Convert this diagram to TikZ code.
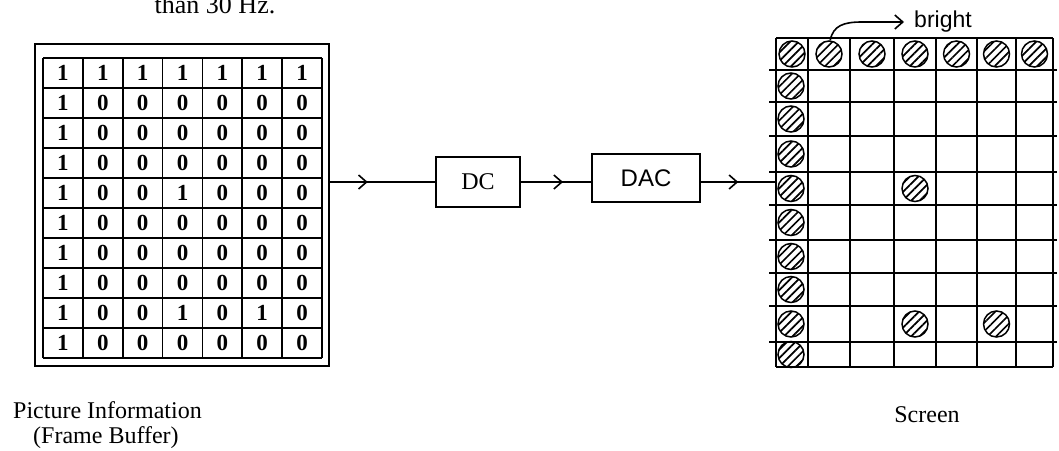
\documentclass[tikz,border=0pt]{standalone}
\usepackage{fontspec}
\setmainfont{Liberation Serif}
\newfontfamily\sansf{Liberation Sans}
\usetikzlibrary{arrows.meta,patterns.meta,decorations.markings,calc}
\begin{document}
\begin{tikzpicture}[x=1pt,y=-1pt,
  gridline/.style={line width=1.6pt},
  digit/.style={font=\fontsize{23}{23}\selectfont\bfseries, inner sep=0pt},
  lbl/.style={font=\fontsize{24}{24}\selectfont, inner sep=0pt},
  blockbox/.style={draw, line width=1.6pt, minimum width=84pt, minimum height=50pt, inner sep=0pt, font=\fontsize{24}{24}\selectfont},
  hc/.style={circle, draw, line width=1.5pt, minimum size=26pt, inner sep=0pt,
     pattern={Lines[angle=45,distance=6pt,line width=1.7pt]}},
  tipstyle/.style={line width=1.6pt},
  midarrow/.style={postaction={decorate}, decoration={markings,
     mark=at position #1 with {\arrow{Straight Barb[length=8pt,width=14pt]}}}},
]
\useasboundingbox (0,0) rectangle (1059,450);

% top cut-off text
\node[font=\fontsize{26}{26}\selectfont, anchor=base, inner sep=0pt] (hz) at (215,13) {than 30 Hz.};

% frame buffer
\node[draw, line width=1.6pt, minimum width=294pt, minimum height=322pt, inner sep=0pt] (fb) at (182,205) {};
\foreach \i in {0,...,10} \draw[gridline] (43,58+30*\i) -- (322,58+30*\i);
\foreach \j in {0,...,7} \draw[gridline] (43+39.857*\j,58) -- (43+39.857*\j,358);
\foreach \r/\vals in {1/{1,1,1,1,1,1,1},2/{1,0,0,0,0,0,0},3/{1,0,0,0,0,0,0},4/{1,0,0,0,0,0,0},
  5/{1,0,0,1,0,0,0},6/{1,0,0,0,0,0,0},7/{1,0,0,0,0,0,0},8/{1,0,0,0,0,0,0},
  9/{1,0,0,1,0,1,0},10/{1,0,0,0,0,0,0}}{
  \foreach \v [count=\c] in \vals {
    \node[digit] (d\r-\c) at (43+39.857*\c-19.93, 58+30*\r-15) {\v};
  }
}

% blocks
\node[blockbox] (dc) at (478,182) {DC};
\node[blockbox, minimum width=108pt, minimum height=48pt, font=\sansf\fontsize{24}{24}\selectfont] (dac) at (646,178) {DAC};

% screen
\node[minimum width=277pt, minimum height=329pt, inner sep=0pt] (screen) at (914.5,202.5) {};
\draw[gridline] (776,38) -- (1053,38);
\foreach \y in {70,102,136,172,205,240,273,306,342} \draw[gridline] (769,\y) -- (1057,\y);
\draw[gridline] (776,367) -- (1053,367);
\foreach \x in {776,808,850,894,936,977,1016,1053} \draw[gridline] (\x,38) -- (\x,367);

% hatched dots
\foreach \x [count=\c] in {792,829,872,915,956.5,996.5,1034.5}
  \node[hc] (s1-\c) at (\x,54) {};
\foreach \y [count=\r from 2] in {86,119,154,188.5,222.5,256.5,289.5,324,354.5}
  \node[hc] (s\r-1) at (791,\y) {};
\node[hc] (s5-4) at (915,188.5) {};
\node[hc] (s9-4) at (915,324) {};
\node[hc] (s9-6) at (996.5,324) {};

% connectors
\draw[tipstyle, midarrow=0.36] (fb.east |- dc.west) -- (dc.west);
\draw[tipstyle, midarrow=0.6] (dc.east) -- (dac.west |- dc.east);
\draw[tipstyle, midarrow=0.5] (dac.east |- dc.east) -- (screen.west |- dc.east);

% bright
\node[font=\sansf\fontsize{23}{23}\selectfont, inner sep=0pt, anchor=west] (bright) at (914,22) {bright};
\coordinate (bk) at (862,22);
\draw[tipstyle, -{Straight Barb[length=8pt,width=14pt]}, shorten >=10pt]
  (s1-2.85) .. controls +(3,-15) and +(-18,0) .. (bk) -- (bright.west);

% labels
\node[lbl, anchor=west] (pi) at (13,410) {Picture Information};
\node[lbl, anchor=west] (fbl) at (33,438) {(Frame Buffer)};
\node[lbl] (scr) at (927,415) {Screen};
\end{tikzpicture}
\end{document}
